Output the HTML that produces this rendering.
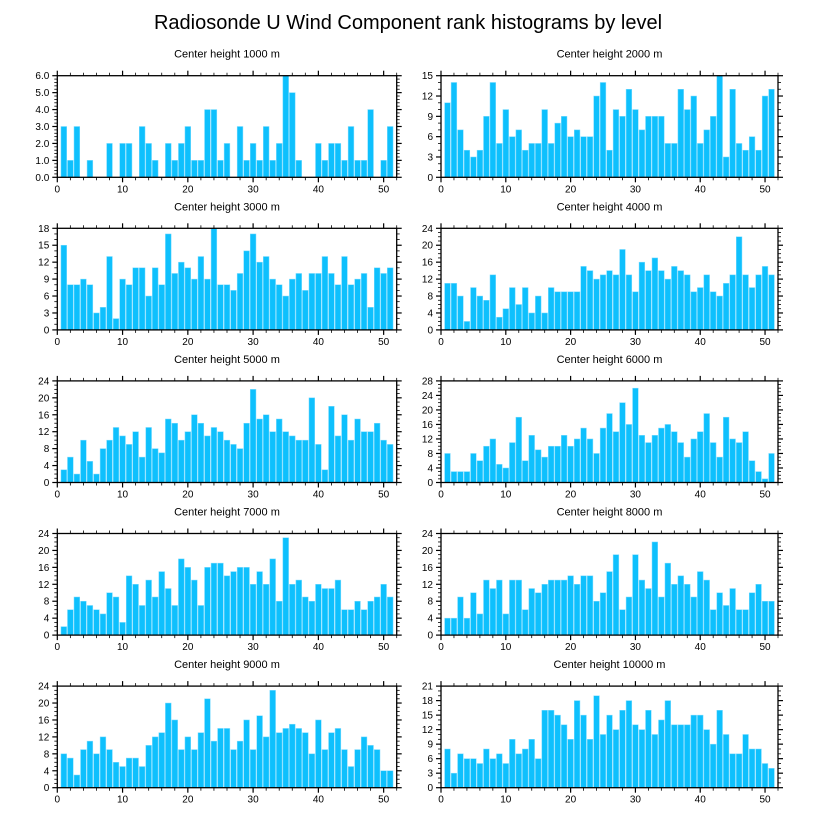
<!DOCTYPE html>
<html><head><meta charset="utf-8">
<style>
html,body{margin:0;padding:0;background:#fff;}
svg{display:block;font-family:"Liberation Sans",sans-serif;}
</style></head>
<body>
<svg id="chart" width="818" height="824" viewBox="0 0 818 824" xmlns="http://www.w3.org/2000/svg">
<rect width="818" height="824" fill="#fff"/>
<text x="408" y="29" text-anchor="middle" font-size="20" fill="#000">Radiosonde U Wind Component rank histograms by level</text>
</svg>
<script>
const levels = [1000,2000,3000,4000,5000,6000,7000,8000,9000,10000];
const yMax = [6,15,18,24,24,28,24,24,24,21];
const yStep = [1,3,3,4,4,4,4,4,4,3];
const xTicks = [0,10,20,30,40,50];
const counts1000 = [3,1,3,0,1,0,0,2,0,2,2,0,3,2,1,0,2,1,2,3,1,1,4,4,1,2,0,3,1,2,1,3,1,2,6,5,1,0,0,2,1,2,2,1,3,1,1,4,0,1,3];
const counts2000 = [11,14,7,4,3,4,9,14,5,10,6,7,4,5,5,10,5,8,9,6,7,6,6,12,14,4,10,9,13,10,7,9,9,9,5,5,13,10,12,5,7,9,15,3,13,5,4,6,4,12,13];
const counts3000 = [15,8,8,9,8,3,4,13,2,9,8,11,11,6,11,8,17,10,12,11,9,13,9,18,8,8,7,10,14,17,12,13,9,8,6,9,10,7,10,10,13,10,8,13,8,9,10,4,11,10,11];
const counts4000 = [11,11,8,2,10,8,7,13,3,5,10,6,10,4,8,4,10,9,9,9,9,15,14,12,13,14,13,19,13,9,16,14,17,14,12,15,14,13,9,10,13,9,8,11,13,22,13,10,13,15,13];
const counts5000 = [3,6,2,10,5,2,8,10,13,11,9,12,6,13,8,7,15,14,10,12,16,14,11,13,12,10,9,8,14,22,15,16,12,15,12,11,10,10,20,9,3,18,11,16,10,15,12,12,14,10,9];
const counts6000 = [8,3,3,3,8,6,10,12,5,4,11,18,6,13,9,7,10,10,13,10,12,15,12,8,15,19,14,22,16,26,13,11,13,15,16,14,11,7,12,14,19,11,7,18,12,11,14,6,3,1,8];
const counts7000 = [2,6,9,8,7,6,5,10,9,3,14,12,7,13,9,15,11,7,18,16,13,7,16,17,17,14,15,16,16,12,15,12,18,8,23,12,13,9,8,12,11,11,13,6,6,8,6,8,9,12,9];
const counts8000 = [4,4,9,4,10,5,13,11,13,5,13,13,6,11,10,12,13,13,13,14,12,14,14,8,10,15,19,6,9,19,13,11,22,9,17,12,14,12,9,15,13,6,10,7,11,6,6,10,12,8,8];
const counts9000 = [8,7,3,9,11,8,12,9,6,5,7,7,5,10,12,13,20,16,9,12,9,13,21,11,14,14,9,11,16,9,17,12,23,13,14,15,14,13,8,16,9,13,14,9,5,9,12,10,9,4,4];
const counts10000 = [8,3,7,6,6,5,8,6,7,5,10,7,8,10,6,16,16,15,13,10,18,15,10,19,11,15,12,16,18,13,12,16,11,14,18,13,13,13,15,15,12,9,16,11,7,7,11,8,8,5,4];
const allCounts = [counts1000,counts2000,counts3000,counts4000,counts5000,counts6000,counts7000,counts8000,counts9000,counts10000];

const NS = "http://www.w3.org/2000/svg";
const svg = document.getElementById('chart');
function mk(tag, attrs, parent){
  const e = document.createElementNS(NS, tag);
  for (const k in attrs) e.setAttribute(k, attrs[k]);
  (parent||svg).appendChild(e);
  return e;
}
const XMIN = 0, XMAX = 52;
for (let p = 0; p < 10; p++) {
  const col = p % 2, row = Math.floor(p / 2);
  const L = col === 0 ? 57.3 : 441, R = col === 0 ? 396.7 : 778;
  const T = 75.7 + row * 152.6, B = T + 101.6;
  const xs = v => L + (v - XMIN) / (XMAX - XMIN) * (R - L);
  const ys = v => B - v / yMax[p] * (B - T);
  const g = mk('g', {});
  
  
  const title = mk('text', {x:(L+R)/2, y:T-18, 'text-anchor':'middle', 'font-size':11}, g);
  title.textContent = 'Center height ' + levels[p] + ' m';
  
  
  const unit = xs(1) - xs(0);
  allCounts[p].forEach((c, i) => {
    const x = i + 1;
    const r = mk('rect', {x: xs(x) - unit*0.44, y: ys(c), width: unit*0.88, height: B - ys(c), fill:'#0ec0fd', stroke:'#7fdcff', 'stroke-width':0.5}, g);
    
    
  });
  // frame
  const fr = mk('rect', {x:L, y:T, width:R-L, height:B-T, fill:'none', stroke:'#000', 'stroke-width':1.3}, g);
  
  
  // x ticks
  for (let v = 0; v <= 52; v += 2) {
    const major = v % 10 === 0;
    const len = major ? 5 : 3;
    mk('line', {x1:xs(v), x2:xs(v), y1:B, y2:B+len, stroke:'#000', 'stroke-width':major?1.2:0.8}, g);
    mk('line', {x1:xs(v), x2:xs(v), y1:T, y2:T-len, stroke:'#000', 'stroke-width':major?1.2:0.8}, g);
  }
  xTicks.forEach(v => {
    const t = mk('text', {x:xs(v), y:B+15, 'text-anchor':'middle', 'font-size':10}, g);
    t.textContent = v;
    
    
  });
  // y ticks
  const st = yStep[p];
  const nMinor = st === 1 ? 5 : st;
  const mstep = st / nMinor;
  for (let k = 0; k <= Math.round(yMax[p] / mstep); k++) {
    const v = k * mstep;
    const major = k % nMinor === 0;
    const len = major ? 5 : 3;
    mk('line', {x1:L, x2:L-len, y1:ys(v), y2:ys(v), stroke:'#000', 'stroke-width':major?1.2:0.8}, g);
    mk('line', {x1:R, x2:R+len, y1:ys(v), y2:ys(v), stroke:'#000', 'stroke-width':major?1.2:0.8}, g);
  }
  for (let v = 0; v <= yMax[p] + 1e-9; v += st) {
    const t = mk('text', {x:L-8, y:ys(v)+3.5, 'text-anchor':'end', 'font-size':10}, g);
    t.textContent = st === 1 ? v.toFixed(1) : v;
    
    
  }
}
</script>
</body></html>
